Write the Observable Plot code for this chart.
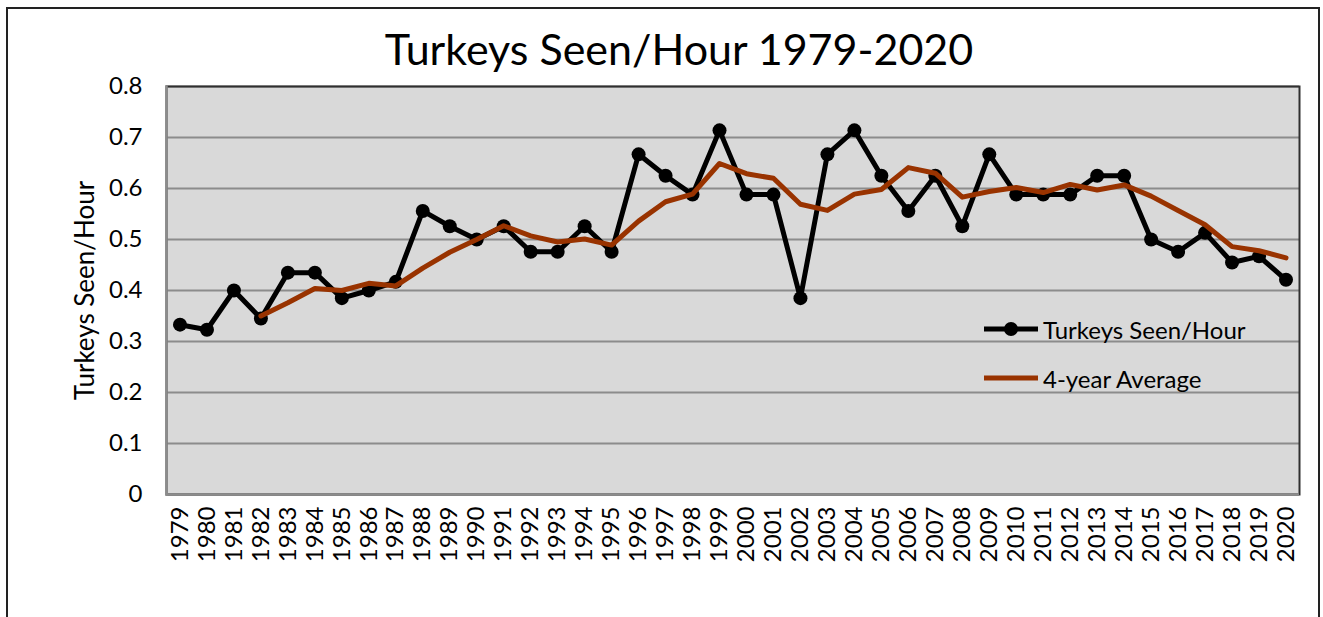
<!DOCTYPE html>
<html><head><meta charset="utf-8">
<script src="https://cdn.jsdelivr.net/npm/d3@7"></script>
<script src="https://cdn.jsdelivr.net/npm/@observablehq/plot@0.6"></script>
<style>
body{margin:0;background:#fff;}
#wrap{position:relative;width:1323px;height:617px;overflow:hidden;font-family:Lato,sans-serif;color:#000;}
#border{position:absolute;left:6px;top:7px;width:1314px;height:650px;border:2px solid #222;box-sizing:border-box;}
#title{position:absolute;left:0;width:1358px;top:24px;text-align:center;font-size:43px;line-height:50px;white-space:nowrap;}
#chart{position:absolute;left:0;top:0;}
.leg{position:absolute;left:983px;height:30px;display:flex;align-items:center;font-size:24px;white-space:nowrap;}
.leg svg{margin-right:4px;}
</style>
</head><body>
<div id="wrap">
  <div id="border"></div>
  <div id="chart"></div>
  <div id="title">Turkeys Seen/Hour 1979-2020</div>
  <div class="leg" style="top:314px"><svg width="56" height="20"><line x1="1" y1="10" x2="55" y2="10" stroke="#000" stroke-width="5"/><circle cx="28" cy="10" r="7" fill="#000"/></svg>Turkeys Seen/Hour</div>
  <div class="leg" style="top:363px"><svg width="56" height="20"><line x1="1" y1="10" x2="55" y2="10" stroke="#993300" stroke-width="5"/></svg>4-year Average</div>
</div>
<script>
const years = [1979,1980,1981,1982,1983,1984,1985,1986,1987,1988,1989,1990,1991,1992,1993,1994,1995,1996,1997,1998,1999,2000,2001,2002,2003,2004,2005,2006,2007,2008,2009,2010,2011,2012,2013,2014,2015,2016,2017,2018,2019,2020];
const seenPerHour = [0.333,0.323,0.400,0.345,0.435,0.435,0.385,0.400,0.417,0.556,0.526,0.500,0.526,0.476,0.476,0.526,0.476,0.667,0.625,0.588,0.714,0.588,0.588,0.385,0.667,0.714,0.625,0.556,0.625,0.526,0.667,0.588,0.588,0.588,0.625,0.625,0.500,0.476,0.513,0.455,0.467,0.421];
const fourYearAvg = [null,null,null,0.350,0.376,0.404,0.400,0.414,0.409,0.444,0.475,0.500,0.527,0.507,0.495,0.501,0.489,0.536,0.574,0.589,0.649,0.629,0.620,0.569,0.557,0.589,0.598,0.641,0.630,0.583,0.594,0.602,0.592,0.608,0.597,0.607,0.585,0.557,0.529,0.486,0.478,0.464];
const yTicks = [0,0.1,0.2,0.3,0.4,0.5,0.6,0.7,0.8];

const data = years.map((y,i)=>({year:String(y), seen:seenPerHour[i], avg:fourYearAvg[i]}));
const avgData = data.filter(d=>d.avg!=null);

const chart = Plot.plot({
  width:1323, height:617,
  marginLeft:166, marginRight:24, marginTop:86, marginBottom:123,
  style:{fontFamily:"Lato, sans-serif", fontSize:"24px", background:"transparent", color:"#000", overflow:"visible"},
  x:{type:"point", domain:years.map(String), padding:0.5},
  y:{domain:[0,0.8]},
  marks:[
    Plot.frame({fill:"#d9d9d9"}),
    Plot.gridY(yTicks, {stroke:"#8c8c8c", strokeOpacity:1, strokeWidth:2}),
    Plot.frame({stroke:"#303030", strokeWidth:2}),
    Plot.frame({anchor:"left", stroke:"#8c8c8c", strokeWidth:2.5}),
    Plot.ruleY([0], {stroke:"#8c8c8c", strokeWidth:2.5}),
    Plot.axisY(yTicks, {tickSize:0, tickPadding:24, tickFormat:d=>d===0?"0":d.toFixed(1), label:null, fill:"#000"}),
    Plot.axisY({tickSize:0, ticks:[], label:"Turkeys Seen/Hour", labelAnchor:"center", labelOffset:91, labelArrow:"none", fontSize:26, fill:"#000"}),
    Plot.axisX({tickRotate:-90, tickSize:0, tickPadding:12, label:null, fill:"#000"}),
    Plot.line(data, {x:"year", y:"seen", stroke:"#000", strokeWidth:5}),
    Plot.dot(data, {x:"year", y:"seen", r:7, fill:"#000"}),
    Plot.line(avgData, {x:"year", y:"avg", stroke:"#993300", strokeWidth:5})
  ]
});
document.getElementById("chart").appendChild(chart);
</script>
</body></html>
